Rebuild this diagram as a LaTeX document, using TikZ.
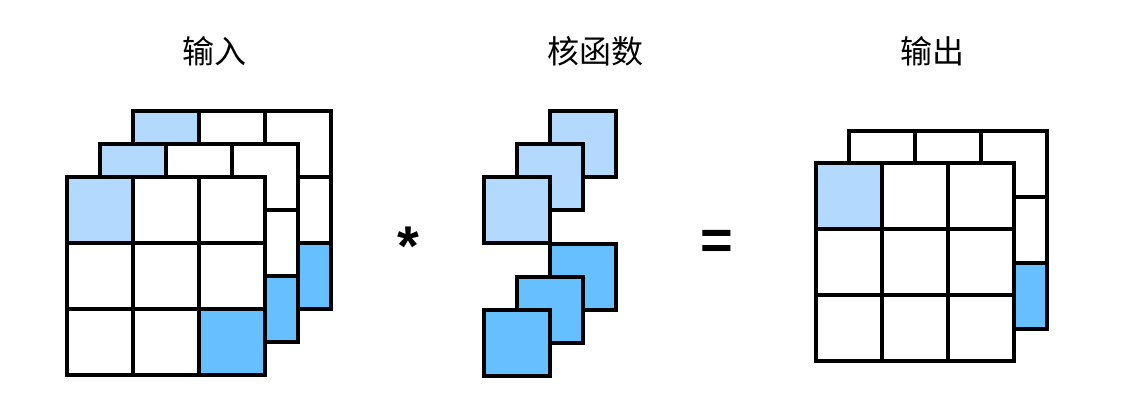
\documentclass[tikz,border=0pt]{standalone}
\usepackage{fontspec}
\newfontfamily\cjk{Noto Sans CJK SC}
\newfontfamily\opfont{Liberation Sans}
\definecolor{lightblue}{RGB}{179,217,255}
\definecolor{darkblue}{RGB}{102,191,255}

\tikzset{
  cell/.style={draw=black, line width=2.8pt, fill=white},
  title/.style={font=\cjk\fontsize{24}{28}\selectfont},
  optext/.style={font=\opfont\bfseries\fontsize{42}{48}\selectfont}
}

% one 3x3 layer: left, top, fill of top-left cell, fill of bottom-right cell
\newcommand{\gridlayer}[4]{%
  \foreach \i in {0,1,2}{
    \foreach \j in {0,1,2}{
      \draw[cell] (#1+66*\i,#2+66*\j) rectangle ++(66,66);
    }
  }
  \draw[cell,fill=#3] (#1,#2) rectangle ++(66,66);
  \draw[cell,fill=#4] (#1+132,#2+132) rectangle ++(66,66);
}

\begin{document}
\begin{tikzpicture}[x=0.75pt,y=0.75pt,yscale=-1,xscale=1]
\useasboundingbox (0,0) rectangle (1139,415);

%Input: three layers, back to front
\gridlayer{133}{111}{lightblue}{darkblue}
\gridlayer{100}{144}{lightblue}{darkblue}
\gridlayer{67}{177}{lightblue}{darkblue}

%Kernel: top group
\draw[cell,fill=lightblue] (550,111) rectangle ++(66,66);
\draw[cell,fill=lightblue] (517,144) rectangle ++(66,66);
\draw[cell,fill=lightblue] (484,177) rectangle ++(66,66);
%Kernel: bottom group
\draw[cell,fill=darkblue] (550,244) rectangle ++(66,66);
\draw[cell,fill=darkblue] (517,277) rectangle ++(66,66);
\draw[cell,fill=darkblue] (484,310) rectangle ++(66,66);

%Output: two layers
\gridlayer{849}{131}{white}{darkblue}
\gridlayer{816}{163}{lightblue}{white}

% Text Node
\node[title] (input) at (214,51) {输入};
% Text Node
\node[title] (kernel) at (595,51) {核函数};
% Text Node
\node[title] (output) at (932,51) {输出};
% Text Node
\node[optext] (conv) at (408,246) {*};
% Text Node
\node[optext] (equals) at (717,245) {=};

\end{tikzpicture}
\end{document}
